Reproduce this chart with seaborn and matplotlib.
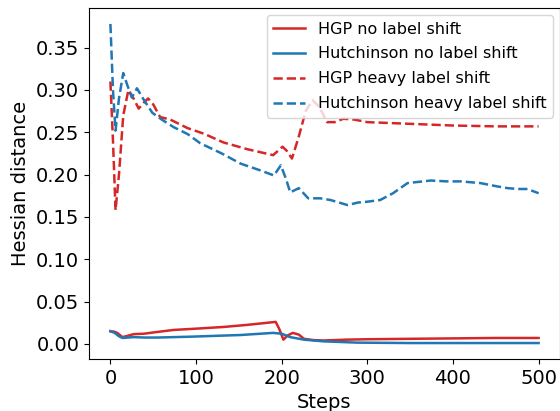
import matplotlib
matplotlib.use("Agg")
import matplotlib.pyplot as plt
import seaborn as sns

# HGP, no label shift
hgp_none_steps = [0, 4, 8, 14, 20, 27, 39, 50, 74, 100, 132, 160, 193, 197, 202, 207,
                  213, 220, 226, 237, 249, 275, 300, 350, 400, 450, 500]
hgp_none_vals = [0.015, 0.0145, 0.013, 0.008, 0.0095, 0.0115, 0.012, 0.0135, 0.0165, 0.018,
                 0.020, 0.0225, 0.026, 0.018, 0.005, 0.010, 0.013, 0.011, 0.006, 0.0045,
                 0.004, 0.005, 0.0055, 0.006, 0.0065, 0.007, 0.007]

# Hutchinson, no label shift
hutch_none_steps = [0, 5, 10, 14, 27, 40, 55, 93, 152, 190, 200, 210, 226, 249, 288,
                    350, 400, 450, 500]
hutch_none_vals = [0.015, 0.013, 0.009, 0.007, 0.008, 0.0075, 0.0075, 0.0085, 0.0105, 0.013,
                   0.012, 0.008, 0.005, 0.003, 0.0015, 0.001, 0.001, 0.001, 0.001]

# HGP, heavy label shift
hgp_heavy_steps = [0, 3, 6, 10, 15, 21, 27, 33, 39, 44, 50, 58, 70, 90, 110, 132, 160,
                   190, 201, 206, 212, 220, 228, 236, 244, 253, 262, 272, 285, 300, 350,
                   400, 450, 500]
hgp_heavy_vals = [0.31, 0.24, 0.158, 0.20, 0.27, 0.30, 0.29, 0.278, 0.285, 0.29, 0.283,
                  0.268, 0.265, 0.255, 0.248, 0.238, 0.230, 0.223, 0.233, 0.228, 0.219,
                  0.245, 0.275, 0.288, 0.280, 0.262, 0.262, 0.266, 0.265, 0.262, 0.260,
                  0.258, 0.257, 0.257]

# Hutchinson, heavy label shift
hutch_heavy_steps = [0, 3, 6, 10, 15, 20, 25, 31, 38, 49, 60, 74, 90, 105, 130, 152, 175,
                     191, 199, 205, 210, 220, 231, 245, 257, 277, 289, 300, 315, 330, 347,
                     374, 393, 409, 432, 452, 464, 476, 487, 500]
hutch_heavy_vals = [0.378, 0.30, 0.252, 0.29, 0.32, 0.305, 0.291, 0.302, 0.29, 0.273,
                    0.265, 0.256, 0.248, 0.237, 0.225, 0.213, 0.205, 0.199, 0.211, 0.195,
                    0.179, 0.184, 0.172, 0.172, 0.170, 0.164, 0.167, 0.168, 0.170, 0.178,
                    0.190, 0.193, 0.192, 0.192, 0.190, 0.186, 0.184, 0.183, 0.183, 0.178]

red = "#d62728"
blue = "#1f77b4"

fig = plt.figure(figsize=(5.6, 4.11), dpi=100)
ax = fig.add_axes([89 / 560, 52 / 411, 471 / 560, 351 / 411])

sns.lineplot(x=hgp_none_steps, y=hgp_none_vals, color=red, linewidth=1.8,
             label="HGP no label shift", ax=ax)
sns.lineplot(x=hutch_none_steps, y=hutch_none_vals, color=blue, linewidth=1.8,
             label="Hutchinson no label shift", ax=ax)
sns.lineplot(x=hgp_heavy_steps, y=hgp_heavy_vals, color=red, linewidth=1.8, linestyle="--",
             label="HGP heavy label shift", ax=ax)
sns.lineplot(x=hutch_heavy_steps, y=hutch_heavy_vals, color=blue, linewidth=1.8, linestyle="--",
             label="Hutchinson heavy label shift", ax=ax)

ax.set_xlabel("Steps", fontsize=14)
ax.set_ylabel("Hessian distance", fontsize=14)
ax.tick_params(labelsize=14)
ax.set_xticks([0, 100, 200, 300, 400, 500])
ax.legend(loc="upper right", fontsize=11.5, labelspacing=0.62, borderaxespad=0.45)

fig.savefig("out.png", dpi=100)
